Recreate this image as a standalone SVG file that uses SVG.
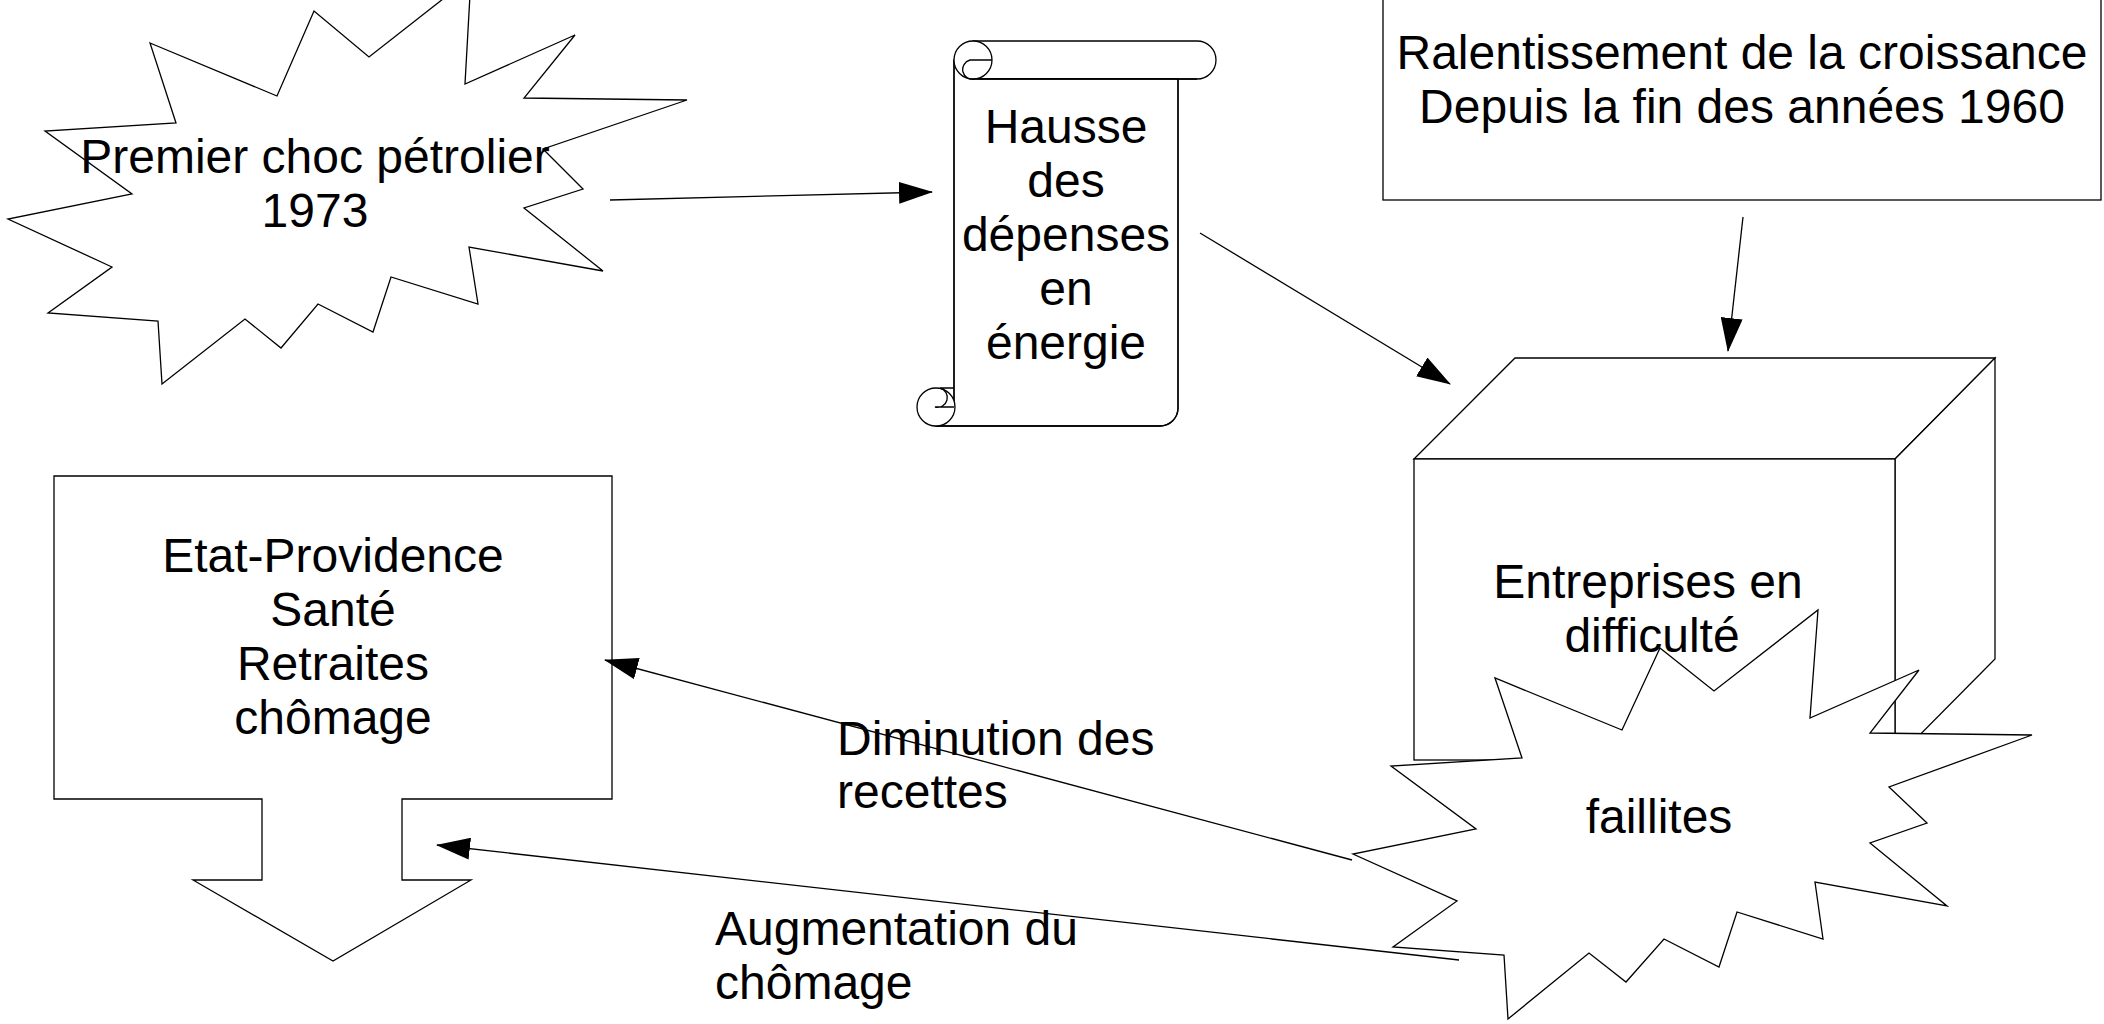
<svg xmlns="http://www.w3.org/2000/svg" width="2104" height="1024" viewBox="0 0 2104 1024">
<style>
.s{fill:#fff;stroke:#000;stroke-width:1.3;stroke-linejoin:miter}
.n{fill:none;stroke:#000;stroke-width:1.3}
.t{font-family:"Liberation Sans",Arial,sans-serif;font-size:48px;fill:#000}
.c{text-anchor:middle}
.l{stroke:#000;stroke-width:1.3;fill:none;marker-end:url(#ah)}
</style>
<defs>
<marker id="ah" markerUnits="userSpaceOnUse" markerWidth="34" markerHeight="22" refX="33" refY="11" orient="auto" viewBox="0 0 34 22">
<path d="M0,0 L34,11 L0,22 Z" fill="#000"/>
</marker>
</defs>
<rect width="2104" height="1024" fill="#fff"/>

<g id="choc">
<polygon class="s" points="150,43 277,96 314,11 369,57 471,-23 465,84 575,35 524,98 687,100 543,149 583,189 524,208 603,271 469,247 478,304 391,277 373,332 318,304 281,348 245,319 162,384 158,321 48,313 112,267 8,219 132,194 45,131 176,123"/>
<text class="t c" x="315" y="173">Premier choc pétrolier</text>
<text class="t c" x="315" y="227">1973</text>
</g>

<g id="hausse">
<path class="s" d="M973,41 L1197,41 A19,19 0 0 1 1197,79 L973,79 Z"/>
<path class="s" d="M954,60 L978,79 L1178,79 L1178,408 A18,18 0 0 1 1160,426 L936,426 L954,407 Z" stroke="none"/>
<path class="n" d="M954,60 L954,407 M1178,79 L1178,408 A18,18 0 0 1 1160,426 L936,426"/>
<circle class="s" cx="973" cy="60" r="19"/>
<path class="n" d="M992,60 L970,60 A9.5,9.5 0 0 0 975,79 L1197,79"/>
<circle class="s" cx="936" cy="407" r="19"/>
<path class="n" d="M940,388 L954,388 M940,388 A9.5,9.5 0 0 1 935,407 L954,407"/>
<text class="t c" x="1066" y="143">Hausse</text>
<text class="t c" x="1066" y="197">des</text>
<text class="t c" x="1066" y="251">dépenses</text>
<text class="t c" x="1066" y="305">en</text>
<text class="t c" x="1066" y="359">énergie</text>
</g>

<g id="ralentissement">
<rect class="s" x="1383" y="-10" width="718" height="210"/>
<text class="t c" x="1742" y="69">Ralentissement de la croissance</text>
<text class="t c" x="1742" y="123">Depuis la fin des années 1960</text>
</g>

<g id="entreprises">
<polygon class="s" points="1414,459 1515,358 1995,358 1895,459"/>
<polygon class="s" points="1895,459 1995,358 1995,659 1895,760"/>
<rect class="s" x="1414" y="459" width="481" height="301"/>
<text class="t c" x="1648" y="598">Entreprises en</text>
<text class="t c" x="1652" y="652">difficulté</text>
</g>

<g id="faillites">
<polygon class="s" points="1495,678 1522,758 1391,766 1476,829 1353,854 1457,901 1393,947 1504,955 1508,1019 1589,953 1626,982 1664,939 1719,967 1737,912 1823,939 1815,882 1947,906 1870,843 1927,823 1889,787 2032,735 1870,733 1919,670 1810,718 1818,610 1714,691 1660,648 1622,730"/>
<text class="t c" x="1659" y="833">faillites</text>
</g>

<g id="etat">
<polygon class="s" points="54,476 612,476 612,799 402,799 402,880 471,880 333,961 193,880 262,880 262,799 54,799"/>
<text class="t c" x="333" y="572">Etat-Providence</text>
<text class="t c" x="333" y="626">Santé</text>
<text class="t c" x="333" y="680">Retraites</text>
<text class="t c" x="333" y="734">chômage</text>
</g>

<g id="connectors">
<line class="l" x1="610" y1="200" x2="932" y2="192"/>
<line class="l" x1="1200" y1="233" x2="1450" y2="384"/>
<line class="l" x1="1743" y1="217" x2="1728" y2="351"/>
<line class="l" x1="1352" y1="860" x2="605" y2="660"/>
<line class="l" x1="1459" y1="960" x2="437" y2="845"/>
<text class="t" x="837" y="755">Diminution des</text>
<text class="t" x="837" y="808">recettes</text>
<text class="t" x="715" y="945">Augmentation du</text>
<text class="t" x="715" y="999">chômage</text>
</g>
</svg>
